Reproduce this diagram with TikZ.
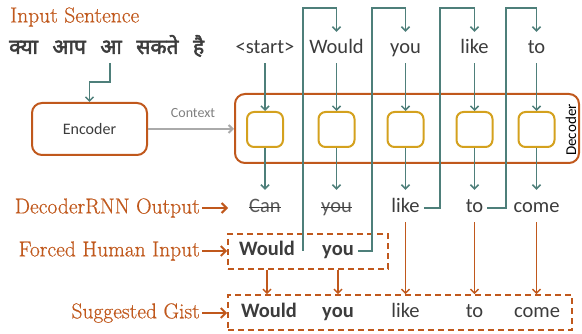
\documentclass[tikz,border=0pt]{standalone}
\usepackage{fontspec}
\setsansfont{Carlito}
\newfontfamily\hindi[Script=Devanagari, FakeBold=2.5]{Noto Sans}
\newfontfamily\labfont[FakeBold=0.6]{Latin Modern Roman}
\usetikzlibrary{arrows.meta}
\definecolor{orng}{HTML}{C0581C}
\definecolor{goldc}{HTML}{D4A11E}
\definecolor{tealc}{HTML}{4E7F7A}
\definecolor{grayc}{HTML}{AAAAAA}
\definecolor{txt}{HTML}{3C3C3C}
\begin{document}
\begin{tikzpicture}[x=1pt,y=-1pt,
  word/.style={font=\sffamily\fontsize{20.5}{24}\selectfont, text=txt, inner sep=0pt, text height=14pt, text depth=4pt},
  bword/.style={word, font=\sffamily\bfseries\fontsize{20.5}{24}\selectfont},
  lab/.style={font=\labfont\fontsize{21.5}{25}\selectfont, text=orng, inner sep=0pt},
  cell/.style={draw=goldc, line width=2pt, rounded corners=7pt, minimum width=36pt, minimum height=35pt},
  bigbox/.style={draw=orng, line width=2pt, rounded corners=10pt},
  fb/.style={draw=tealc, line width=1.5pt, -{Straight Barb[length=4pt,width=8pt]}},
  oarr/.style={draw=orng, line width=1.5pt, -{Straight Barb[length=4pt,width=8pt]}},
  larr/.style={draw=orng, line width=2pt, -{Straight Barb[length=5pt,width=10pt]}},
  dbox/.style={draw=orng, line width=1.6pt, dash pattern=on 6pt off 4pt},
  strike/.style={draw=txt, line width=1pt}]
\useasboundingbox (0,0) rectangle (582,334);

% input sentence
\node[lab, anchor=west] (insent) at (10,17) {Input Sentence};
\node[anchor=west, inner sep=0pt, text=txt, font=\hindi\fontsize{21}{25}\selectfont] (hin) at (9,46) {क्या\hspace{9pt} आप\hspace{9pt} आ\hspace{9pt} सकते\hspace{9pt} है};

% encoder
\node[bigbox, minimum width=115pt, minimum height=52pt, font=\sffamily\fontsize{16}{19}\selectfont, text=txt] (enc) at (89.5,129) {Encoder};
\coordinate (hs) at (110,63);
\draw[fb] (hs) -- (110,82) -| (enc.north);

% decoder
\node[bigbox, minimum width=344pt, minimum height=69pt] (dec) at (407,128.5) {};
\node[rotate=90, font=\sffamily\fontsize{15}{18}\selectfont, text=black, inner sep=0pt] (declab) at (571,130) {Decoder};
\draw[draw=grayc, line width=2pt, -{Straight Barb[length=4pt,width=8pt]}] (enc.east) -- (enc.east -| dec.west);
\node[font=\sffamily\fontsize{14}{17}\selectfont, text=gray, inner sep=0pt] (ctx) at (193,113) {Context};

% cells
\node[cell] (c1) at (265,129.5) {};
\node[cell] (c2) at (336.5,129.5) {};
\node[cell] (c3) at (405.5,129.5) {};
\node[cell] (c4) at (474.5,129.5) {};
\node[cell] (c5) at (536.5,129.5) {};

% top inputs
\node[word] (t1) at (265,49) {<start>};
\node[word] (t2) at (336.5,49) {Would};
\node[word] (t3) at (405.5,49) {you};
\node[word] (t4) at (474.5,49) {like};
\node[word] (t5) at (536.5,49) {to};
\foreach \i in {1,...,5} {
  \draw[fb] ([yshift=-5pt]t\i.south) -- (c\i.north);
}

% outputs
\node[word, text=txt!85] (o1) at (265,208) {Can};
\node[word, text=txt!85] (o2) at (336.5,208) {you};
\node[word] (o3) at (405.5,208) {like};
\node[word] (o4) at (474.5,208) {to};
\node[word] (o5) at (536.5,208) {come};
\foreach \i in {1,...,5} {
  \draw[fb] (c\i.south) -- ([yshift=9pt]o\i.north);
}
\draw[strike] ([yshift=5.5pt]o1.base west) -- ([yshift=5.5pt]o1.base east);
\draw[strike] ([yshift=5.5pt]o2.base west) -- ([yshift=5.5pt]o2.base east);

% forced human input
\node[dbox, minimum width=160pt, minimum height=35pt] (fbox) at (308,251.5) {};
\node[bword] (f1) at (267,251) {Would};
\node[bword] (f2) at (338,251) {you};

% suggested gist
\node[dbox, minimum width=344pt, minimum height=35pt] (gbox) at (400,312.5) {};
\node[bword] (g1) at (269,313) {Would};
\node[bword] (g2) at (338,313) {you};
\node[word] (g3) at (405.5,313) {like};
\node[word] (g4) at (474.5,313) {to};
\node[word] (g5) at (537,313) {come};

% feedback loops
\coordinate (fl1) at (303,251);
\draw[fb] (fl1) -- (303,8) -| ([yshift=8pt]t2.north);
\draw[fb] ([xshift=4pt]f2.east) -| (372,8) -| ([yshift=8pt]t3.north);
\draw[fb] ([xshift=4pt]o3.east) -| (440,8) -| ([yshift=8pt]t4.north);
\draw[fb] ([xshift=4pt]o4.east) -| (506,8) -| ([yshift=8pt]t5.north);

% orange arrows to gist
\draw[oarr] (f1 |- fbox.south) -- (f1 |- gbox.north);
\draw[oarr] (f2 |- fbox.south) -- (f2 |- gbox.north);
\draw[oarr] ([yshift=-5pt]o3.south) -- (o3 |- gbox.north);
\draw[oarr] ([yshift=-5pt]o4.south) -- (o4 |- gbox.north);
\draw[oarr] ([yshift=-5pt]o5.south) -- (o5 |- gbox.north);

% left labels
\node[lab, anchor=east] (ldec) at (200,208) {DecoderRNN Output};
\coordinate (ldecend) at (228,208);
\draw[larr] ([xshift=2pt]ldec.east) -- (ldecend);
\node[lab, anchor=east] (lforce) at (200,251) {Forced Human Input};
\draw[larr] ([xshift=2pt]lforce.east) -- (lforce.east -| fbox.west);
\node[lab, anchor=east] (lgist) at (200,313) {Suggested Gist};
\draw[larr] ([xshift=2pt]lgist.east) -- (lgist.east -| gbox.west);
\end{tikzpicture}
\end{document}
